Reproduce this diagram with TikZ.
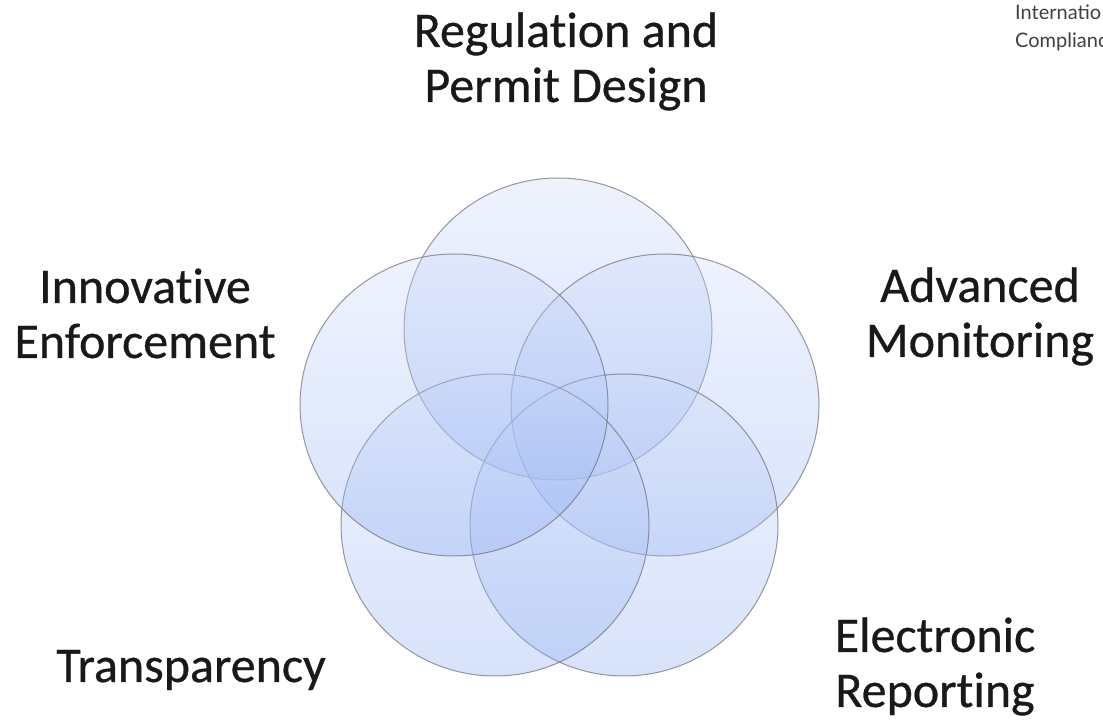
\documentclass[tikz,border=0pt]{standalone}
\usepackage{fontspec}
\setmainfont{Carlito}
\newfontfamily\topicfont{Carlito}[FakeBold=0.6]
\newfontfamily\notefont{Lato}
\usetikzlibrary{shapes.geometric}
\definecolor{petaltop}{RGB}{205,218,250}
\definecolor{petalbot}{RGB}{140,172,242}
\definecolor{petalline}{RGB}{110,110,115}
% keep t and i apart (no ligature)
\newcommand{\tisplit}{t\kern0pt i}

\begin{document}
\begin{tikzpicture}[x=1pt,y=1pt,
  petal/.style={ellipse, inner sep=0pt, minimum width=308pt, minimum height=302pt,
    draw=petalline, line width=1pt, draw opacity=.7,
    top color=petaltop, bottom color=petalbot, fill opacity=.34},
  topic/.style={align=center, inner sep=0pt, anchor=base, text=black!90,
    font=\topicfont\fontsize{50}{55}\selectfont},
  note/.style={align=left, inner sep=0pt, anchor=base west, text=black!75,
    font=\notefont\fontsize{20}{28}\selectfont}]
  \useasboundingbox (0,0) rectangle (1103,720);
  \node[petal] (reg) at (558,391) {};
  \node[petal] (mon) at (665,315) {};
  \node[petal] (rep) at (624,195) {};
  \node[petal] (tra) at (495,195) {};
  \node[petal] (enf) at (454,315) {};
  \node[topic] (regtext) at (566,618) {Regula\tisplit on and\\Permit Design};
  \node[topic] (enftext) at (145,362) {Innova\tisplit ve\\Enforcement};
  \node[topic] (montext) at (980,363) {Advanced\\Monitoring};
  \node[topic] (tratext) at (191,38) {Transparency};
  \node[topic] (reptext) at (935,13) {Electronic\\Repor\tisplit ng};
  \node[note] (note) at (1015,672) {Internatio\\Complianc};
\end{tikzpicture}
\end{document}
